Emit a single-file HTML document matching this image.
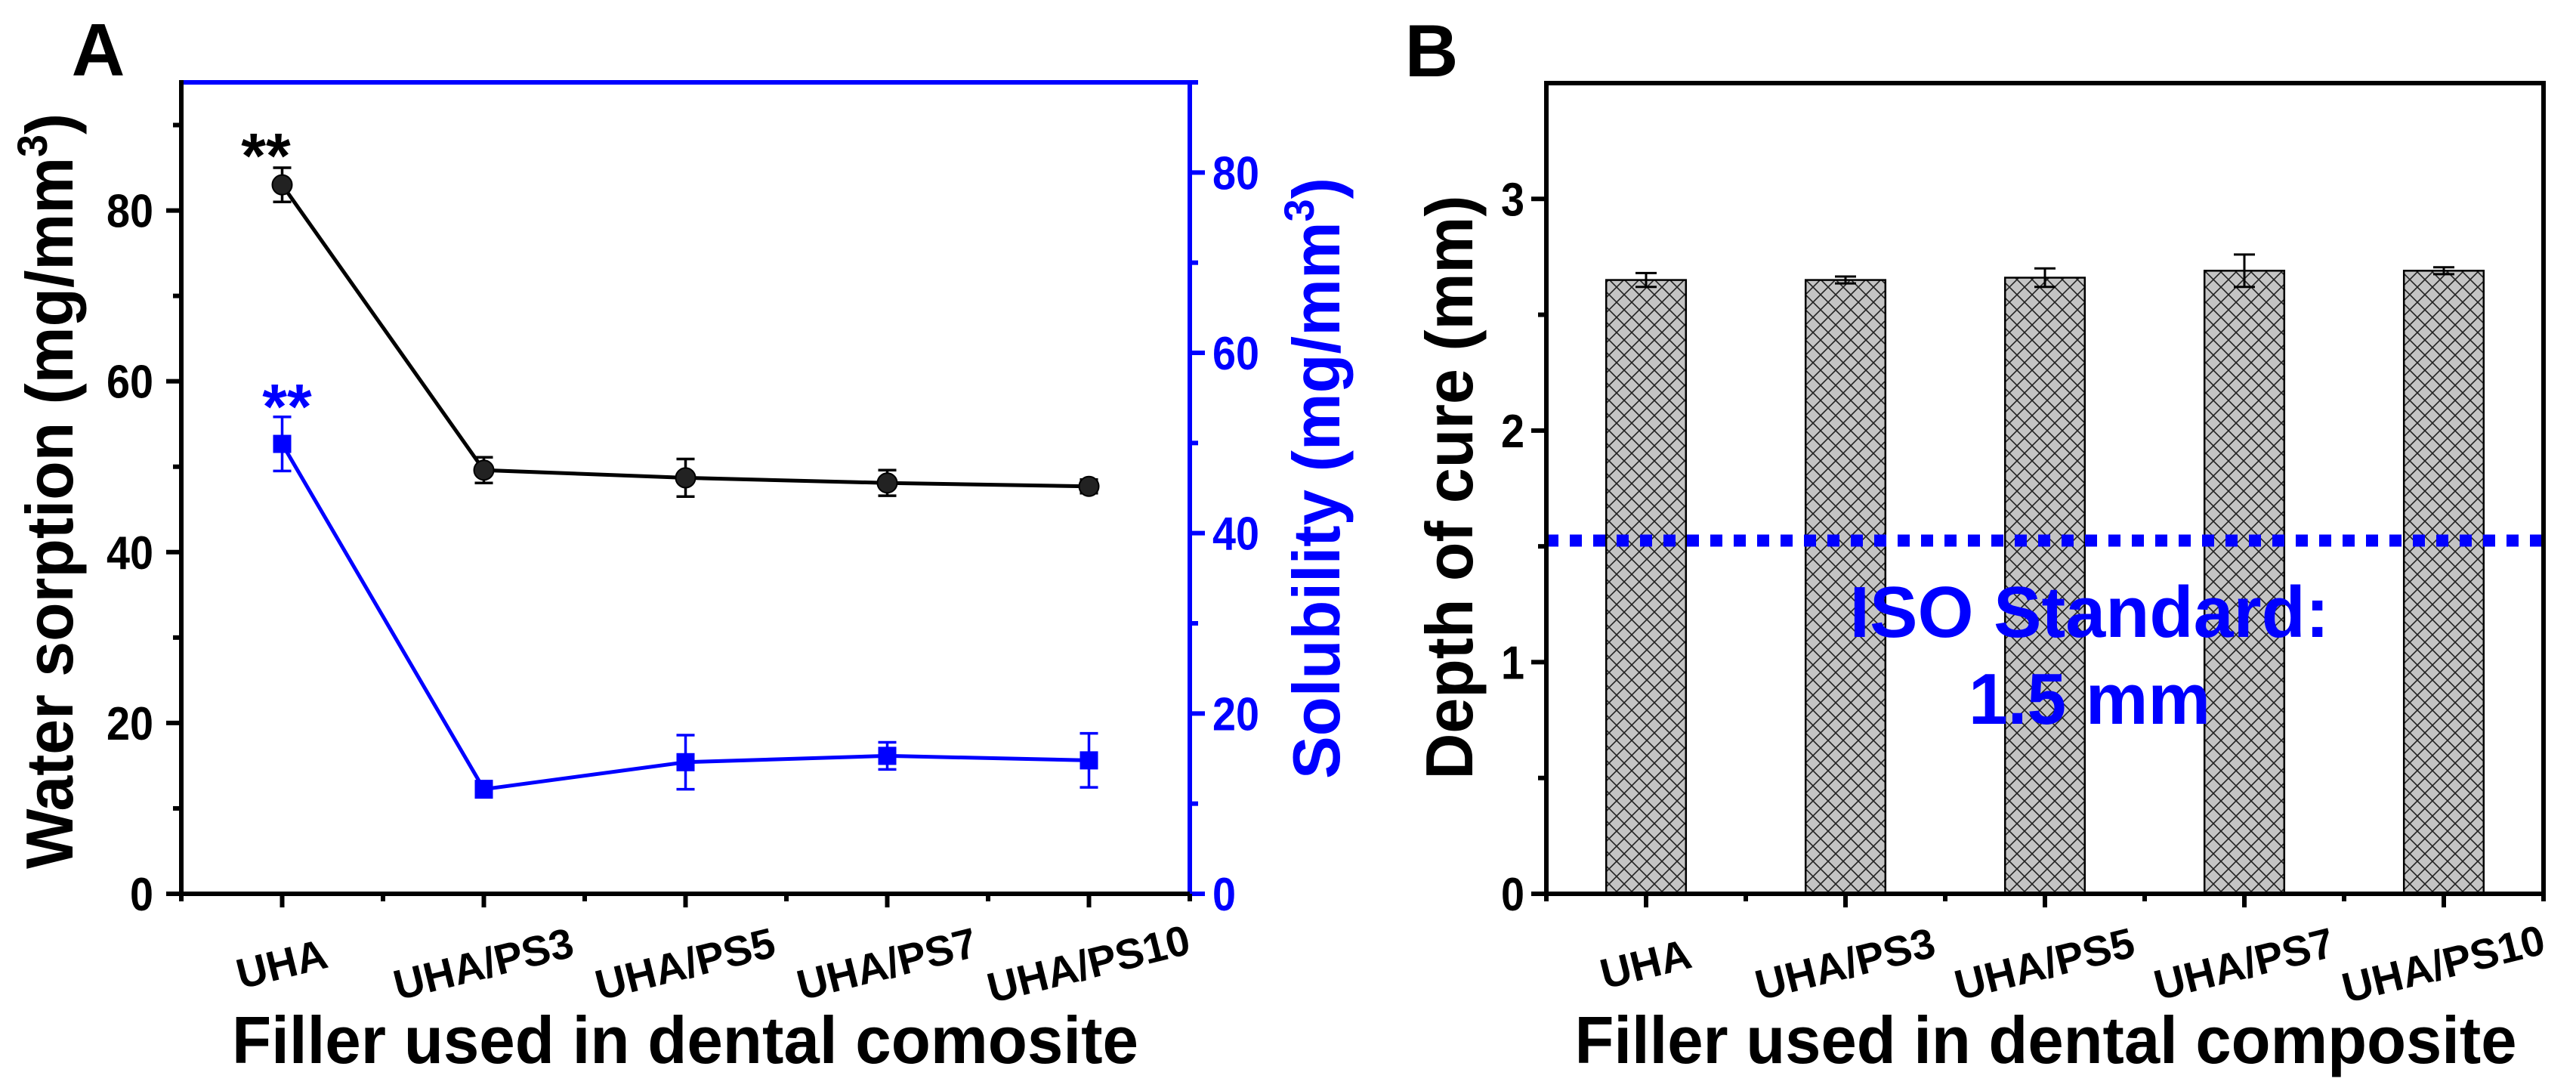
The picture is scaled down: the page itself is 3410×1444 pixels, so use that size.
<!DOCTYPE html>
<html><head><meta charset="utf-8"><style>
html,body{margin:0;padding:0;background:#fff;}
svg{display:block;font-family:"Liberation Sans",Arial,sans-serif;}
</style></head><body>
<svg id="chart" width="3410" height="1444" viewBox="0 0 3410 1444" xmlns="http://www.w3.org/2000/svg">
<defs>
<pattern id="hatch" width="20" height="20" patternUnits="userSpaceOnUse">
<rect width="20" height="20" fill="#c4c4c4"/>
<path d="M0,0 L20,20 M20,0 L0,20 M-10,10 L10,30 M10,-10 L30,10 M-10,10 L10,-10 M10,30 L30,10" stroke="#222" stroke-width="1.6" fill="none"/>
</pattern>
</defs>
<g id="panelA"></g>
<g id="panelB"></g>
</svg>
<script>
const categories = ["UHA","UHA/PS3","UHA/PS5","UHA/PS7","UHA/PS10"];
const sorption = [83.0, 49.6, 48.7, 48.1, 47.7];
const sorptionErr = [2.0, 1.5, 2.2, 1.5, 0.8];
const solubility = [49.9, 11.6, 14.6, 15.3, 14.8];
const solubilityErr = [3.0, 0.9, 3.0, 1.5, 3.0];
const cureDepth = [2.65, 2.65, 2.66, 2.69, 2.69];
const cureErr = [0.03, 0.015, 0.04, 0.07, 0.015];
const isoStandard = 1.525;
const leftTicks = [0, 20, 40, 60, 80];
const rightTicks = [0, 20, 40, 60, 80];
const cureTicks = [0, 1, 2, 3];

const NS = "http://www.w3.org/2000/svg";
function mk(parent, tag, attrs, text) {
  const e = document.createElementNS(NS, tag);
  for (const k in attrs) e.setAttribute(k, attrs[k]);
  if (text !== undefined) e.textContent = text;
  parent.appendChild(e);
  return e;
}

// ---------- Panel A ----------
const A = document.getElementById('panelA');
const aL = 240, aR = 1575, aT = 109, aB = 1183;
const xA = i => aL + (i + 0.5) / 5 * (aR - aL);
const yL = v => aB - v / 95 * (aB - aT);
const yR = v => aB - v / 90 * (aB - aT);

let t = mk(A, 'text', {x: 130, y: 100, 'font-size': 98, 'font-weight': 'bold', 'text-anchor': 'middle'}, 'A');



let ln = mk(A, 'line', {x1: aL, y1: aT, x2: aR, y2: aT, stroke: '#0000ff', 'stroke-width': 6});


ln = mk(A, 'line', {x1: aR, y1: aT - 3, x2: aR, y2: aB, stroke: '#0000ff', 'stroke-width': 6});


ln = mk(A, 'line', {x1: aL, y1: aT - 3, x2: aL, y2: aB + 3, stroke: '#000', 'stroke-width': 6});


ln = mk(A, 'line', {x1: aL - 20, y1: aB, x2: aR, y2: aB, stroke: '#000', 'stroke-width': 6});



for (let v = 0; v <= 90; v += 10) {
  const major = v % 20 === 0;
  mk(A, 'line', {x1: aL - (major ? 20 : 11), y1: yL(v), x2: aL, y2: yL(v), stroke: '#000', 'stroke-width': 6});
}
leftTicks.forEach(v => {
  const e = mk(A, 'text', {x: 203, y: yL(v) + 22, 'font-size': 62, 'font-weight': 'bold', 'text-anchor': 'end', textLength: String(v).length * 31, lengthAdjust: 'spacingAndGlyphs'}, String(v));
  
  
});
for (let v = 0; v <= 90; v += 10) {
  const major = v % 20 === 0;
  mk(A, 'line', {x1: aR, y1: yR(v), x2: aR + (major ? 20 : 11), y2: yR(v), stroke: '#0000ff', 'stroke-width': 6});
}
rightTicks.forEach(v => {
  const e = mk(A, 'text', {x: 1605, y: yR(v) + 22, 'font-size': 62, 'font-weight': 'bold', fill: '#0000ff', textLength: String(v).length * 31, lengthAdjust: 'spacingAndGlyphs'}, String(v));
  
  
});
for (let k = 0; k <= 10; k++) {
  const xv = aL + k / 10 * (aR - aL);
  const major = k % 2 === 1;
  mk(A, 'line', {x1: xv, y1: aB, x2: xv, y2: aB + (major ? 18 : 10), stroke: '#000', 'stroke-width': 6});
}
categories.forEach((c, i) => {
  const e = mk(A, 'text', {x: xA(i), y: 1295, 'font-size': 56, 'font-weight': 'bold', 'text-anchor': 'middle', transform: `rotate(-14 ${xA(i)} 1278)`}, c);
  
  
});
t = mk(A, 'text', {x: 907, y: 1407, 'font-size': 88, 'font-weight': 'bold', 'text-anchor': 'middle', textLength: 1200, lengthAdjust: 'spacingAndGlyphs'}, 'Filler used in dental comosite');



t = mk(A, 'text', {x: 0, y: 0, 'font-size': 88, 'font-weight': 'bold', 'text-anchor': 'middle', transform: 'translate(96 650) rotate(-90)', textLength: 1000, lengthAdjust: 'spacingAndGlyphs'});


t.appendChild(document.createTextNode('Water sorption (mg/mm'));
mk(t, 'tspan', {'font-size': 56, dy: -34}, '3');
mk(t, 'tspan', {dy: 34}, ')');

t = mk(A, 'text', {x: 0, y: 0, 'font-size': 88, 'font-weight': 'bold', 'text-anchor': 'middle', fill: '#0000ff', transform: 'translate(1773 633) rotate(-90)', textLength: 796, lengthAdjust: 'spacingAndGlyphs'});


t.appendChild(document.createTextNode('Solubility (mg/mm'));
mk(t, 'tspan', {'font-size': 56, dy: -34}, '3');
mk(t, 'tspan', {dy: 34}, ')');

function drawSeries(vals, errs, yf, color, marker, name) {
  const g = mk(A, 'g', {});
  
  
  const pts = vals.map((v, i) => `${xA(i)},${yf(v)}`).join(' ');
  mk(g, 'polyline', {points: pts, fill: 'none', stroke: color, 'stroke-width': 5});
  vals.forEach((v, i) => {
    const x = xA(i), y0 = yf(v - errs[i]), y1 = yf(v + errs[i]);
    const eb = mk(g, 'path', {d: `M${x},${y0}V${y1}M${x - 12},${y0}H${x + 12}M${x - 12},${y1}H${x + 12}`, stroke: color, 'stroke-width': 3.5, fill: 'none'});
    
    
    let m;
    if (marker === 'circle') m = mk(g, 'circle', {cx: x, cy: yf(v), r: 13, fill: '#222', stroke: '#000', 'stroke-width': 2});
    else m = mk(g, 'rect', {x: x - 12, y: yf(v) - 12, width: 24, height: 24, fill: color});
    
    
  });
}
drawSeries(sorption, sorptionErr, yL, '#000', 'circle', 'water-sorption-series');
drawSeries(solubility, solubilityErr, yR, '#0000ff', 'square', 'solubility-series');

t = mk(A, 'text', {x: 352, y: 235, 'font-size': 84, 'font-weight': 'bold', 'text-anchor': 'middle'}, '**');


t = mk(A, 'text', {x: 380, y: 567, 'font-size': 84, 'font-weight': 'bold', 'text-anchor': 'middle', fill: '#0000ff'}, '**');



// ---------- Panel B ----------
const B = document.getElementById('panelB');
const bL = 2047, bR = 3367, bT = 110, bB = 1183;
const xB = i => bL + (i + 0.5) / 5 * (bR - bL);
const yB = v => bB - v / 3.5 * (bB - bT);
const barW = 0.4 / 5 * (bR - bL);

t = mk(B, 'text', {x: 1895, y: 101, 'font-size': 98, 'font-weight': 'bold', 'text-anchor': 'middle'}, 'B');



cureDepth.forEach((v, i) => {
  const r = mk(B, 'rect', {x: xB(i) - barW / 2, y: yB(v), width: barW, height: bB - yB(v), fill: 'url(#hatch)', stroke: '#000', 'stroke-width': 2.5});
  
  
  const x = xB(i), y0 = yB(v - cureErr[i]), y1 = yB(v + cureErr[i]);
  const eb = mk(B, 'path', {d: `M${x},${y0}V${y1}M${x - 14},${y0}H${x + 14}M${x - 14},${y1}H${x + 14}`, stroke: '#000', 'stroke-width': 3, fill: 'none'});
  
  
});

const iso = mk(B, 'line', {x1: bL, y1: yB(isoStandard), x2: bR, y2: yB(isoStandard), stroke: '#0000ff', 'stroke-width': 16, 'stroke-dasharray': '16 15'});


t = mk(B, 'text', {x: 2766, y: 843, 'font-size': 96, 'font-weight': 'bold', 'text-anchor': 'middle', fill: '#0000ff', textLength: 635, lengthAdjust: 'spacingAndGlyphs'}, 'ISO Standard:');


t = mk(B, 'text', {x: 2766, y: 958, 'font-size': 96, 'font-weight': 'bold', 'text-anchor': 'middle', fill: '#0000ff', textLength: 320, lengthAdjust: 'spacingAndGlyphs'}, '1.5 mm');



ln = mk(B, 'rect', {x: bL, y: bT, width: bR - bL, height: bB - bT, fill: 'none', stroke: '#000', 'stroke-width': 6});


for (let v = 0; v <= 3.01; v += 0.5) {
  const major = Math.abs(v - Math.round(v)) < 1e-6;
  mk(B, 'line', {x1: bL - (major ? 20 : 11), y1: yB(v), x2: bL, y2: yB(v), stroke: '#000', 'stroke-width': 6});
}
cureTicks.forEach(v => {
  const e = mk(B, 'text', {x: 2018, y: yB(v) + 22, 'font-size': 62, 'font-weight': 'bold', 'text-anchor': 'end', textLength: 31, lengthAdjust: 'spacingAndGlyphs'}, String(v));
  
  
});
for (let k = 0; k <= 10; k++) {
  const xv = bL + k / 10 * (bR - bL);
  const major = k % 2 === 1;
  mk(B, 'line', {x1: xv, y1: bB, x2: xv, y2: bB + (major ? 18 : 10), stroke: '#000', 'stroke-width': 6});
}
categories.forEach((c, i) => {
  const e = mk(B, 'text', {x: xB(i), y: 1295, 'font-size': 56, 'font-weight': 'bold', 'text-anchor': 'middle', transform: `rotate(-14 ${xB(i)} 1278)`}, c);
  
  
});
t = mk(B, 'text', {x: 2708, y: 1407, 'font-size': 88, 'font-weight': 'bold', 'text-anchor': 'middle', textLength: 1247, lengthAdjust: 'spacingAndGlyphs'}, 'Filler used in dental composite');


t = mk(B, 'text', {x: 0, y: 0, 'font-size': 88, 'font-weight': 'bold', 'text-anchor': 'middle', transform: 'translate(1949 645) rotate(-90)', textLength: 773, lengthAdjust: 'spacingAndGlyphs'}, 'Depth of cure (mm)');


</script>
</body></html>
